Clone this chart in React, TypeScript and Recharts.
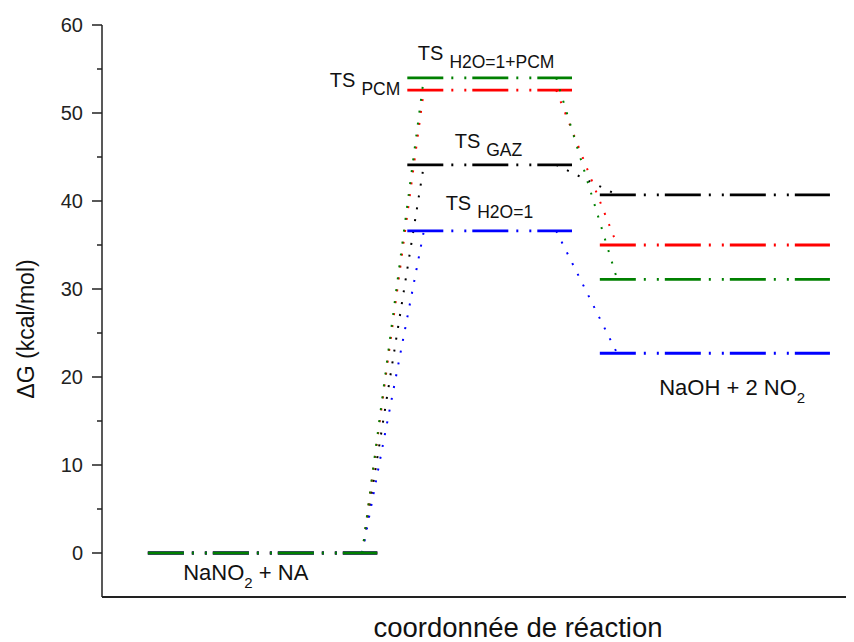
import React from 'react';
import { LineChart, Line, XAxis, YAxis, ReferenceDot, Label } from 'recharts';

// ---- data ----
const SERIES_NAMES = ['GAZ', 'PCM', 'H2O=1', 'H2O=1+PCM'];
const REACTANT_DG = [0, 0, 0, 0];
const TS_DG = [44.1, 52.6, 36.6, 54.0];
const PRODUCT_DG = [40.7, 35.0, 22.7, 31.1];

// reaction coordinate extents of each level and connector
const REACTANT_X = [6.1, 36.6];
const TS_X = [40.6, 62.5];
const PRODUCT_X = [66.2, 96.8];
const CONNECT_1_X = [34.6, 42.8];
const CONNECT_2_X = [60.4, 68.5];

const Y_TICKS = [0, 5, 10, 15, 20, 25, 30, 35, 40, 45, 50, 55, 60];

const TS_LABELS = [
  { main: 'TS', sub: 'PCM', x: 30.3, y: 52.95 },
  { main: 'TS', sub: 'H2O=1+PCM', x: 42.0, y: 56.0 },
  { main: 'TS', sub: 'GAZ', x: 46.9, y: 46.0 },
  { main: 'TS', sub: 'H2O=1', x: 45.7, y: 39.0 },
];
const SPECIES_LABELS = [
  { pre: 'NaNO', sub: '2', post: ' + NA', x: 10.8, y: -3.07 },
  { pre: 'NaOH + 2 NO', sub: '2', post: '', x: 74.1, y: 17.95 },
];

// ---- styles ----
const COLORS = ['#000000', '#ff0000', '#0000ff', '#008000'];
const FONT = '"Liberation Sans", Arial, sans-serif';
const LEVEL_DASH = '36 8 2 11 2 6';
const CONNECT_DASH = '2 10';

const seg = (xs: number[], y0: number, y1: number) => [
  { x: xs[0], y: y0 },
  { x: xs[1], y: y1 },
];

const YTick = (props: any) => {
  const { x, y, payload } = props;
  const major = payload.value % 10 === 0;
  return (
    <g>
      <line x1={x - (major ? 10 : 5)} x2={x} y1={y} y2={y} stroke="#222" strokeWidth={1.5} />
      {major && (
        <text x={x - 19} y={y} dy="0.36em" textAnchor="end" fontSize={20} fontFamily={FONT} fill="#222">
          {payload.value}
        </text>
      )}
    </g>
  );
};

export default function App() {
  const lines: React.ReactNode[] = [];
  SERIES_NAMES.forEach((name, i) => {
    const c = COLORS[i];
    lines.push(
      <Line key={`r-${name}`} data={seg(REACTANT_X, REACTANT_DG[i], REACTANT_DG[i])} dataKey="y" type="linear"
        stroke={c} strokeWidth={2.8} strokeDasharray={LEVEL_DASH} dot={false} activeDot={false} isAnimationActive={false} />,
      <Line key={`t-${name}`} data={seg(TS_X, TS_DG[i], TS_DG[i])} dataKey="y" type="linear"
        stroke={c} strokeWidth={2.8} strokeDasharray={LEVEL_DASH} dot={false} activeDot={false} isAnimationActive={false} />,
      <Line key={`p-${name}`} data={seg(PRODUCT_X, PRODUCT_DG[i], PRODUCT_DG[i])} dataKey="y" type="linear"
        stroke={c} strokeWidth={2.8} strokeDasharray={LEVEL_DASH} dot={false} activeDot={false} isAnimationActive={false} />,
      <Line key={`c1-${name}`} data={seg(CONNECT_1_X, REACTANT_DG[i], TS_DG[i])} dataKey="y" type="linear"
        stroke={c} strokeWidth={2} strokeDasharray={CONNECT_DASH} dot={false} activeDot={false} isAnimationActive={false} />,
      <Line key={`c2-${name}`} data={seg(CONNECT_2_X, TS_DG[i], PRODUCT_DG[i])} dataKey="y" type="linear"
        stroke={c} strokeWidth={2} strokeDasharray={CONNECT_DASH} dot={false} activeDot={false} isAnimationActive={false} />
    );
  });

  return (
    <LineChart width={846} height={634} margin={{ top: 17, right: 0, bottom: 0, left: 0 }}>
      <XAxis type="number" dataKey="x" domain={[0, 100]} allowDataOverflow tick={false} tickLine={false}
        axisLine={{ stroke: '#222', strokeWidth: 2 }} height={45}>
        <Label
          content={(p: any) => {
            const vb = p.viewBox;
            return (
              <text x={vb.x + vb.width / 2 + 40} y={vb.y + vb.height - 5} textAnchor="middle"
                fontSize={27.5} fontFamily={FONT} fill="#111">
                coordonnée de réaction
              </text>
            );
          }}
        />
      </XAxis>
      <YAxis type="number" domain={[-5, 60]} ticks={Y_TICKS} interval={0} allowDataOverflow width={94}
        tickSize={0} tickMargin={0} tickLine={false} tick={<YTick />}
        axisLine={{ stroke: '#222', strokeWidth: 1.5 }}>
        <Label
          content={(p: any) => {
            const vb = p.viewBox;
            const cy = vb.y + vb.height / 2 + 18;
            return (
              <text x={26} y={cy} transform={`rotate(-90, 26, ${cy})`} textAnchor="middle"
                fontSize={23} fontFamily={FONT} fill="#111">
                ΔG (kcal/mol)
              </text>
            );
          }}
        />
      </YAxis>
      {lines}
      {TS_LABELS.map((l) => (
        <ReferenceDot key={`lab-${l.sub}`} x={l.x} y={l.y} r={0} ifOverflow="visible"
          shape={(p: any) => (
            <text x={p.cx} y={p.cy} fontFamily={FONT} fill="#111" fontSize={20}>
              <tspan>{l.main}</tspan>
              <tspan dx={6} dy={8} fontSize={17.5}>{l.sub}</tspan>
            </text>
          )}
        />
      ))}
      {SPECIES_LABELS.map((l) => (
        <ReferenceDot key={`sp-${l.pre}`} x={l.x} y={l.y} r={0} ifOverflow="visible"
          shape={(p: any) => (
            <text x={p.cx} y={p.cy} fontFamily={FONT} fill="#111" fontSize={22} style={{ whiteSpace: 'pre' }}>
              <tspan>{l.pre}</tspan>
              <tspan dy={8} fontSize={15}>{l.sub}</tspan>
              {l.post ? <tspan dy={-8}>{l.post}</tspan> : null}
            </text>
          )}
        />
      ))}
    </LineChart>
  );
}
